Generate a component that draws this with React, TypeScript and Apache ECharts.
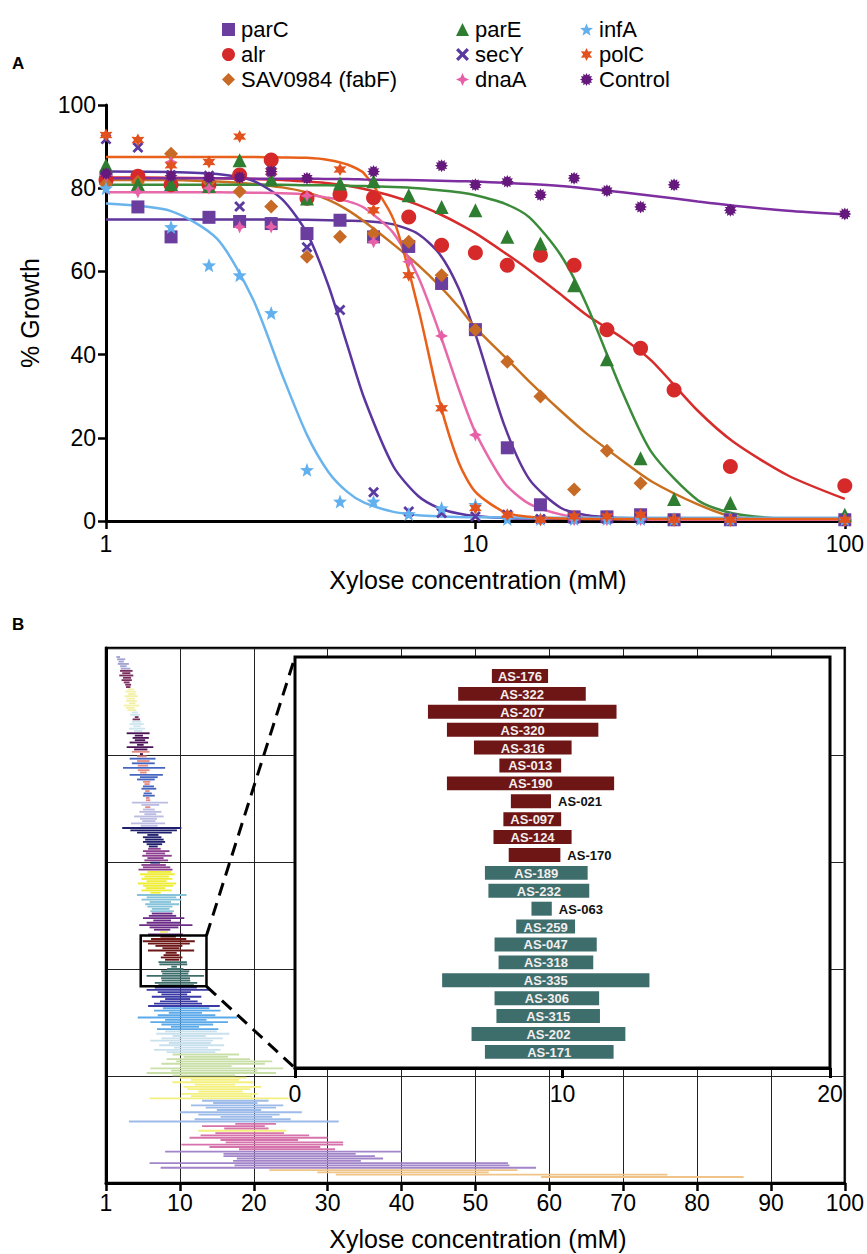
import React, { useEffect, useRef } from "react";
import * as echarts from "echarts";

// ---------------- Panel A data ----------------
const X_COLS = [1, 1.22, 1.5, 1.9, 2.3, 2.8, 3.5, 4.3, 5.3, 6.6, 8.1, 10, 12.2, 15, 18.5, 22.7, 28, 34.5, 49, 100];

const PARC_PTS = [82.4, 75.5, 68.3, 73.0, 72.0, 71.5, 69.1, 72.3, 68.3, 66.0, 57.1, 46.0, 17.6, 3.9, 1.0, 1.0, 1.5, 0.3, 0.3, 0.3];
const ALR_PTS = [82.0, 82.9, 80.8, 80.8, 83.2, 86.8, 77.6, 78.5, 77.7, 73.1, 66.3, 64.5, 61.5, 63.9, 61.5, 46.0, 41.5, 31.5, 13.1, 8.5];
const FABF_PTS = [81.0, 81.5, 88.3, 81.5, 79.2, 75.6, 63.5, 68.3, 69.1, 67.1, 59.1, 46.0, 38.3, 29.9, 7.6, 16.9, 9.1, 0.3, 0.3, 0.3];
const PARE_PTS = [85.5, 81.0, 81.0, 80.5, 86.7, 82.1, 77.5, 81.1, 81.7, 78.3, 75.5, 74.7, 68.3, 66.7, 56.7, 38.9, 15.1, 5.3, 4.3, 1.5];
const SECY_PTS = [91.8, 89.8, 83.1, 83.0, 75.6, 84.0, 65.8, 50.7, 6.9, 2.3, 1.9, 1.1, 1.5, 0.5, 0.5, 0.5, 0.5, 0.5, 0.5, 0.5];
const DNAA_PTS = [83.0, 79.1, 86.3, 80.0, 70.7, 70.7, 78.2, null, 67.1, 62.3, 44.5, 20.7, 1.2, 0.3, 0.3, 0.3, 0.3, 0.3, 0.3, 0.3];
const INFA_PTS = [80.0, null, 70.7, 61.5, 59.1, 50.0, 12.3, 4.7, 4.7, 1.7, 3.1, 3.9, 0.5, 0.5, 0.5, 0.5, 0.5, 0.5, 0.5, 0.5];
const POLC_PTS = [92.8, 91.6, 85.5, 86.3, 92.4, 84.0, null, 84.5, 74.7, 59.1, 27.1, 3.1, 1.5, 0.3, 1.1, 1.1, 1.5, 0.3, 0.3, 0.3];
const CTRL_PTS = [83.5, null, 83.0, 82.6, 82.6, 84.0, 82.4, null, 84.0, null, 85.4, 80.8, 81.6, 78.4, 82.4, 79.4, 75.5, 80.8, 74.7, 73.8];

// fitted curves, read at these concentrations
const CURVE_X = [1, 1.5, 2, 2.5, 3, 3.5, 4, 4.5, 5, 6, 7, 8, 9, 10, 12, 14, 17, 20, 25, 30, 40, 50, 70, 100];
const INFA_FIT = [76.3, 74.5, 67.8, 53.3, 35.1, 20.7, 11.8, 7.0, 4.4, 2.2, 1.4, 1.1, 0.95, 0.9, 0.85, 0.8, 0.8, 0.8, 0.8, 0.8, 0.8, 0.8, 0.8, 0.8];
const SECY_FIT = [84.0, 83.9, 83.4, 81.8, 77.3, 69.2, 56.6, 42.3, 29.5, 13.1, 6.0, 3.0, 1.8, 1.2, 0.7, 0.6, 0.55, 0.5, 0.5, 0.5, 0.5, 0.5, 0.5, 0.5];
const POLC_FIT = [87.5, 87.5, 87.5, 87.5, 87.4, 87.3, 86.8, 85.7, 83.5, 72.5, 51.2, 28.7, 14.2, 7.0, 2.1, 1.0, 0.6, 0.5, 0.5, 0.5, 0.5, 0.5, 0.5, 0.5];
const DNAA_FIT = [79.0, 79.0, 79.0, 78.9, 78.8, 78.5, 77.7, 76.9, 75.3, 69.2, 58.7, 45.2, 31.9, 21.3, 9.1, 4.1, 1.6, 0.8, 0.4, 0.3, 0.3, 0.3, 0.3, 0.3];
const PARC_FIT = [72.5, 72.5, 72.5, 72.5, 72.5, 72.4, 72.3, 72.2, 72.1, 71.3, 69.0, 64.2, 56.0, 44.9, 22.8, 10.0, 3.2, 1.4, 0.7, 0.5, 0.5, 0.5, 0.5, 0.5];
const FABF_FIT = [82.0, 82.0, 81.6, 81.0, 80.2, 79.0, 77.2, 74.8, 72.0, 66.5, 61.5, 56.5, 51.5, 46.5, 39.5, 33.5, 26.5, 21.0, 14.5, 9.5, 4.0, 1.0, 0.3, 0.3];
const ALR_FIT = [82.6, 82.5, 82.4, 82.2, 82.0, 81.6, 81.2, 80.6, 79.8, 78.0, 76.0, 73.8, 71.5, 69.2, 64.5, 60.3, 54.5, 49.5, 44.0, 38.5, 26.5, 19.0, 11.0, 5.3];
const PARE_FIT = [80.8, 80.8, 80.8, 80.8, 80.8, 80.7, 80.7, 80.6, 80.5, 80.3, 80.0, 79.5, 79.0, 78.3, 76.3, 73.0, 64.0, 52.0, 31.0, 16.5, 5.0, 1.8, 0.5, 0.3];
const CTRL_FIT = [82.4, 82.4, 82.4, 82.3, 82.3, 82.3, 82.2, 82.2, 82.1, 82.0, 81.9, 81.8, 81.7, 81.6, 81.3, 81.0, 80.5, 79.9, 79.0, 78.2, 76.8, 75.8, 74.6, 73.7];

const A_TICKS_Y = [0, 20, 40, 60, 80, 100];

// ---------------- Panel B data ----------------
const PALETTE = [
  "#a3a3d3", "#7a2d5c", "#f3f1a8", "#cfe6ef", "#4b1256", "#e38a82", "#4766c2", "#bcbce3",
  "#1f1f6e", "#8d3f8f", "#eeec33", "#86c3da", "#6b2b86", "#6e1515", "#3e6e6c", "#3a3aa6",
  "#5ba9e9", "#c9e0ed", "#c9dfa8", "#f4f07e", "#9dbbe9", "#d673ab", "#a285c9", "#f0c487",
];

const INSET_NAMES = ["AS-176", "AS-322", "AS-207", "AS-320", "AS-316", "AS-013", "AS-190", "AS-021", "AS-097", "AS-124", "AS-170",
  "AS-189", "AS-232", "AS-063", "AS-259", "AS-047", "AS-318", "AS-335", "AS-306", "AS-315", "AS-202", "AS-171"];
const INSET_START = [7.36, 6.10, 4.97, 5.68, 6.69, 7.64, 5.68, 8.07, 7.79, 7.42, 7.99,
  7.10, 7.23, 8.84, 8.27, 7.46, 7.61, 5.50, 7.46, 7.53, 6.60, 7.10];
const INSET_END = [9.46, 10.87, 12.02, 11.34, 10.34, 9.95, 11.93, 9.57, 9.95, 10.34, 9.92,
  10.94, 11.00, 9.60, 10.47, 11.28, 11.15, 13.25, 11.37, 11.40, 12.35, 11.91];
const INSET_CLASS = [13, 13, 13, 13, 13, 13, 13, 13, 13, 13, 13, 14, 14, 14, 14, 14, 14, 14, 14, 14, 14, 14];

const BLK_A = [[1.4, 1.9], [1.5, 2.6], [1.7, 2.4], [1.6, 3.1], [1.9, 2.8], [2.0, 3.3]];
const BLK_B = [[1.9, 3.6], [2.2, 3.3], [1.8, 3.7], [2.3, 3.4], [2.1, 3.5], [2.4, 3.2], [2.6, 3.4], [2.7, 3.3]];
const BLK_C = [[2.9, 3.8], [2.6, 4.1], [3.0, 4.0], [2.5, 4.3], [2.8, 3.9], [2.7, 4.2], [3.1, 4.0], [2.4, 4.5], [2.7, 3.9], [2.9, 4.1]];
const BLK_D = [[3.5, 4.3], [3.3, 4.6], [3.9, 4.4, 1], [3.6, 4.6, 1], [3.5, 4.8], [3.2, 5.1], [3.7, 4.7], [3.1, 5.3], [3.8, 4.9]];
const BLK_E = [[2.8, 5.9], [3.9, 5.0], [3.6, 5.8], [3.9, 5.3], [3.2, 5.7], [4.2, 5.1], [2.8, 6.4], [3.8, 5.6]];
const BLK_F = [[3.5, 5.9], [4.6, 5.0, 4], [4.2, 5.5], [3.2, 6.7, 6], [4.2, 5.9], [3.5, 6.6, 6], [4.3, 5.7], [2.3, 8.0, 6],
  [4.3, 5.9], [4.6, 5.5], [3.2, 7.7, 6], [4.6, 7.0, 6], [4.2, 6.6, 6], [5.0, 6.0], [5.2, 5.9], [5.0, 6.5, 6], [4.8, 6.8, 6],
  [5.3, 5.9], [5.1, 6.2, 6], [5.0, 6.6, 6], [5.4, 5.9], [5.4, 6.0]];
const BLK_G = [[3.5, 8.4], [4.8, 7.2], [5.3, 6.0, 5], [5.0, 6.6], [4.5, 7.5], [5.2, 6.8], [3.8, 7.8], [4.6, 6.9], [4.9, 6.7], [3.4, 8.0], [4.7, 7.0]];
const BLK_H = [[2.2, 10.2], [3.3, 9.6], [4.2, 8.9], [5.6, 7.1], [5.0, 7.5], [5.3, 7.8], [5.0, 8.0], [5.5, 7.6], [5.8, 7.0]];
const BLK_I = [[5.7, 7.4], [5.0, 8.6], [5.4, 8.0], [4.9, 8.9], [5.6, 7.8], [5.2, 8.4], [6.0, 7.3, 8], [4.8, 8.1], [5.0, 8.7], [4.4, 9.0]];
const BLK_J = [[5.6, 8.8], [4.6, 9.3], [5.2, 8.5], [4.8, 9.0], [5.5, 8.2], [4.3, 9.5], [5.0, 9.1], [5.4, 8.0], [4.8, 8.9], [6.0, 7.4]];
const BLK_K = [[4.2, 10.9], [5.5, 9.5], [4.8, 10.2], [5.9, 8.8], [5.3, 9.9], [5.6, 9.0], [6.2, 8.6], [6.0, 9.2]];
const BLK_L = [[6.2, 9.0], [5.8, 9.5], [5.0, 10.6], [6.4, 8.8], [5.5, 10.1], [4.5, 11.7], [5.9, 9.8], [6.5, 8.7], [7.3, 8.4, 19], [5.7, 10.4]];
const BLK_O = [[6.6, 12.3], [5.5, 14.0], [7.0, 11.5], [7.5, 11.0], [6.2, 12.9], [8.0, 11.4], [7.3, 12.4], [6.5, 13.0], [5.7, 15.4]];
const BLK_P = [[7.7, 14.0], [6.5, 15.5], [8.5, 13.0], [7.0, 14.8], [4.3, 17.8], [8.0, 13.6], [6.0, 16.5], [7.5, 14.5], [8.8, 12.6], [6.9, 15.2]];
const BLK_Q = [[8.0, 15.0], [6.8, 16.7], [9.0, 13.5], [7.5, 15.8], [6.0, 14.5], [8.5, 14.2], [7.2, 16.0], [9.2, 13.8], [6.5, 15.5], [8.2, 14.8]];
const BLK_R = [[9.0, 18.0], [10.5, 16.5], [8.2, 19.5], [9.5, 22.5], [7.5, 21.5], [10.0, 17.0], [6.0, 24.0], [8.8, 20.5], [5.5, 23.0], [9.0, 17.5]];
const BLK_S = [[10.0, 19.0], [11.5, 18.0], [9.0, 20.0], [12.0, 17.5], [10.5, 21.0], [11.0, 19.5], [12.5, 18.5], [10.2, 20.5], [11.5, 19.8], [5.9, 24.7]];
const BLK_T = [[13.0, 22.0], [14.5, 20.5], [11.5, 24.0], [13.5, 23.0], [15.0, 21.0], [10.0, 26.5], [12.5, 23.5], [15.5, 22.5], [12.0, 25.0], [3.1, 31.5]];
const BLK_U = [[17.5, 23.0], [13.0, 21.5], [16.0, 22.0], [12.5, 24.4, 19], [14.8, 24.1], [12.8, 27.5], [11.3, 30.0], [15.5, 26.0],
  [16.2, 32.1], [10.2, 32.1], [14.0, 29.0], [18.0, 31.0]];
const BLK_V = [[8.0, 40.0], [15.9, 33.8], [15.9, 36.4], [17.7, 37.5], [17.2, 34.5], [5.9, 54.4], [17.4, 54.6], [7.4, 58.2]];
const BLK_W = [[22.1, 55.7], [28.6, 51.8], [31.1, 76.0], [58.9, 86.3]];

const ZOOM_RANGE = [4.7, 13.6];
const B_TICKS_X = [0, 10, 20, 30, 40, 50, 60, 70, 80, 90, 100];

// ---------------- helpers ----------------
const FONT = "'Liberation Sans', Arial, Helvetica, sans-serif";

function starPath(n: number, ro: number, ri: number) {
  const pts: string[] = [];
  for (let i = 0; i < 2 * n; i++) {
    const r = i % 2 === 0 ? ro : ri;
    const a = -Math.PI / 2 + (i * Math.PI) / n;
    pts.push(`${(50 + r * Math.cos(a)).toFixed(2)},${(50 + r * Math.sin(a)).toFixed(2)}`);
  }
  return "path://M" + pts.join(" L") + " Z";
}
const X_PATH = "path://M0,18 L18,0 L50,32 L82,0 L100,18 L68,50 L100,82 L82,100 L50,68 L18,100 L0,82 L32,50 Z";

const SERIES_A = [
  { name: "parC", pts: PARC_PTS, fit: PARC_FIT, symbol: "rect", size: 13, mc: "#6a3d9e", lc: "#5f3599" },
  { name: "alr", pts: ALR_PTS, fit: ALR_FIT, symbol: "circle", size: 15, mc: "#d62a2a", lc: "#d72c2c" },
  { name: "SAV0984 (fabF)", pts: FABF_PTS, fit: FABF_FIT, symbol: "diamond", size: 14, mc: "#c66a26", lc: "#c8701f" },
  { name: "parE", pts: PARE_PTS, fit: PARE_FIT, symbol: "triangle", size: 14, mc: "#2f7d31", lc: "#3b8b3b" },
  { name: "secY", pts: SECY_PTS, fit: SECY_FIT, symbol: X_PATH, size: 11, mc: "#5b3aa0", lc: "#5a36a0" },
  { name: "dnaA", pts: DNAA_PTS, fit: DNAA_FIT, symbol: starPath(4, 50, 22), size: 13, mc: "#e75fa6", lc: "#e869aa" },
  { name: "infA", pts: INFA_PTS, fit: INFA_FIT, symbol: starPath(5, 50, 21), size: 14, mc: "#63b0ee", lc: "#6ab4ee" },
  { name: "polC", pts: POLC_PTS, fit: POLC_FIT, symbol: starPath(6, 50, 26), size: 13, mc: "#e2521f", lc: "#e8601a" },
  { name: "Control", pts: CTRL_PTS, fit: CTRL_FIT, symbol: starPath(12, 50, 34), size: 13, mc: "#65197c", lc: "#7d2ea0" },
];

const GRID_A = { left: 106, top: 105, width: 742, height: 416 };
const GRID_B = { left: 106, top: 648, width: 742, height: 535 };
const GRID_I = { left: 295, top: 657, width: 535, height: 411 };

function buildRows() {
  const blocks: [number[][], number][] = [
    [BLK_A, 0], [BLK_B, 1], [BLK_C, 2], [BLK_D, 3], [BLK_E, 4], [BLK_F, 5], [BLK_G, 7], [BLK_H, 8], [BLK_I, 9],
    [BLK_J, 10], [BLK_K, 11], [BLK_L, 12],
  ];
  const rows: number[][] = [];
  for (const [blk, cls] of blocks) for (const r of blk) rows.push([r[0], r[1], rows.length, r[2] ?? cls]);
  const insetFirst = rows.length;
  for (let i = 0; i < INSET_NAMES.length; i++) rows.push([INSET_START[i], INSET_END[i], rows.length, INSET_CLASS[i]]);
  const insetLast = rows.length - 1;
  const after: [number[][], number][] = [
    [BLK_O, 15], [BLK_P, 16], [BLK_Q, 17], [BLK_R, 18], [BLK_S, 19], [BLK_T, 20], [BLK_U, 21], [BLK_V, 22], [BLK_W, 23],
  ];
  for (const [blk, cls] of after) for (const r of blk) rows.push([r[0], r[1], rows.length, r[2] ?? cls]);
  return { rows, insetFirst, insetLast };
}

export default function App() {
  const ref = useRef<HTMLDivElement>(null);

  useEffect(() => {
    if (!ref.current) return;
    const chart = echarts.init(ref.current, null, { renderer: "svg" });
    const { rows, insetFirst, insetLast } = buildRows();
    const nRows = rows.length;
    const pitch = 520 / (nRows - 1);
    const rowMin = -9 / pitch;
    const rowMax = nRows - 1 + 6 / pitch;

    const insetData = INSET_NAMES.map((n, i) => [INSET_START[i], INSET_END[i], i, INSET_CLASS[i]]);

    const lineSeries = SERIES_A.map((s) => ({
      type: "line",
      name: s.name + " fit",
      xAxisIndex: 0,
      yAxisIndex: 0,
      data: CURVE_X.map((x, i) => [x, s.fit[i]]),
      showSymbol: false,
      smooth: 0.25,
      silent: true,
      lineStyle: { color: s.lc, width: 2.5 },
      itemStyle: { color: s.lc },
      z: 2,
    }));
    const scatterSeries = SERIES_A.map((s) => ({
      type: "scatter",
      name: s.name,
      xAxisIndex: 0,
      yAxisIndex: 0,
      data: X_COLS.map((x, i) => (s.pts[i] == null ? null : [x, s.pts[i]])).filter((d) => d !== null),
      symbol: s.symbol,
      symbolSize: s.size,
      itemStyle: { color: s.mc, opacity: 1 },
      z: 3,
    }));

    const legendBase = {
      orient: "vertical",
      itemWidth: 13,
      itemHeight: 13,
      itemGap: 0,
      selectedMode: false,
      textStyle: { fontSize: 22, color: "#000", fontFamily: FONT, lineHeight: 25, padding: [0, 0, 0, 1] },
    };

    const option: any = {
      animation: false,
      backgroundColor: "#fff",
      legend: [
        { ...legendBase, left: 217, top: 12, data: ["parC", "alr", "SAV0984 (fabF)"] },
        { ...legendBase, left: 451, top: 12, data: ["parE", "secY", "dnaA"] },
        { ...legendBase, left: 575, top: 12, data: ["infA", "polC", "Control"] },
      ],
      grid: [
        { ...GRID_A, containLabel: false },
        { ...GRID_B, containLabel: false, show: true, borderColor: "#000", borderWidth: 2.5, backgroundColor: "transparent" },
        { ...GRID_I, containLabel: false },
      ],
      xAxis: [
        {
          gridIndex: 0, type: "log", logBase: 10, min: 1, max: 100,
          axisLine: { lineStyle: { color: "#000", width: 3 } },
          axisTick: { show: true, length: 8, lineStyle: { color: "#000", width: 2.5 } },
          minorTick: { show: false },
          axisLabel: { fontSize: 23, color: "#000", fontFamily: FONT, margin: 11 },
          splitLine: { show: false },
        },
        {
          gridIndex: 1, type: "value", min: 0, max: 100, interval: 10,
          axisLine: { onZero: false, lineStyle: { color: "#000", width: 3 } },
          axisTick: { show: true, length: 8, lineStyle: { color: "#000", width: 2.5 } },
          axisLabel: {
            fontSize: 23, color: "#000", fontFamily: FONT, margin: 8,
            formatter: (v: number) => (v === B_TICKS_X[0] ? "1" : String(v)),
          },
          splitLine: { show: true, lineStyle: { color: "#222", width: 1 } },
        },
        {
          gridIndex: 2, type: "value", min: 0, max: 20, interval: 10, z: 12,
          axisLine: { onZero: false, lineStyle: { color: "#000", width: 3 } },
          axisTick: { show: true, length: 10, lineStyle: { color: "#000", width: 3 } },
          axisLabel: { fontSize: 23, color: "#000", fontFamily: FONT, margin: 14 },
          splitLine: { show: false },
        },
      ],
      yAxis: [
        {
          gridIndex: 0, type: "value", min: A_TICKS_Y[0], max: A_TICKS_Y[A_TICKS_Y.length - 1], interval: 20,
          axisLine: { show: true, lineStyle: { color: "#000", width: 3 } },
          axisTick: { show: true, length: 8, lineStyle: { color: "#000", width: 2.5 } },
          axisLabel: { fontSize: 23, color: "#000", fontFamily: FONT, margin: 10 },
          splitLine: { show: false },
        },
        {
          gridIndex: 1, type: "value", inverse: true, min: rowMin, max: rowMax,
          axisLine: { show: true, onZero: false, lineStyle: { color: "#000", width: 3 } },
          axisTick: { show: false }, axisLabel: { show: false }, splitLine: { show: false },
        },
        {
          gridIndex: 1, type: "value", min: 0, max: 5, interval: 1, position: "right",
          axisLine: { show: false }, axisTick: { show: false }, axisLabel: { show: false },
          splitLine: { show: true, lineStyle: { color: "#222", width: 1 } },
        },
        {
          gridIndex: 2, type: "value", inverse: true, min: -1.06, max: 21.9, show: false,
        },
      ],
      series: [
        ...lineSeries,
        ...scatterSeries,
        {
          type: "custom",
          name: "strains",
          xAxisIndex: 1,
          yAxisIndex: 1,
          data: rows,
          encode: { x: [0, 1], y: 2 },
          silent: true,
          z: 2,
          renderItem: (params: any, api: any) => {
            const a = api.coord([api.value(0), api.value(2)]);
            const b = api.coord([api.value(1), api.value(2)]);
            const h = Math.abs(api.size([0, 1])[1]) * 0.8;
            return {
              type: "rect",
              shape: { x: a[0], y: a[1] - h / 2, width: b[0] - a[0], height: h },
              style: { fill: PALETTE[api.value(3)] },
            };
          },
        },
        {
          type: "custom",
          name: "inset",
          xAxisIndex: 2,
          yAxisIndex: 3,
          data: insetData,
          encode: { x: [0, 1], y: 2 },
          silent: true,
          z: 12,
          renderItem: (params: any, api: any) => {
            const s = api.value(0);
            const e = api.value(1);
            const idx = api.value(2);
            const a = api.coord([s, idx]);
            const b = api.coord([e, idx]);
            const h = Math.abs(api.size([0, 1])[1]) * 0.78;
            const outside = e - s < 2.0;
            return {
              type: "group",
              children: [
                {
                  type: "rect",
                  shape: { x: a[0], y: a[1] - h / 2, width: b[0] - a[0], height: h },
                  style: { fill: PALETTE[api.value(3)] },
                },
                {
                  type: "text",
                  x: outside ? b[0] + 7 : (a[0] + b[0]) / 2,
                  y: a[1] + 0.5,
                  style: {
                    text: INSET_NAMES[idx],
                    fill: outside ? "#111" : "#f4eeee",
                    fontSize: 13,
                    fontWeight: "bold",
                    fontFamily: FONT,
                    align: outside ? "left" : "center",
                    verticalAlign: "middle",
                  },
                },
              ],
            };
          },
        },
      ],
    };

    chart.setOption(option);

    const tl = chart.convertToPixel({ xAxisIndex: 1, yAxisIndex: 1 } as any, [ZOOM_RANGE[0], insetFirst - 0.5]) as number[];
    const br = chart.convertToPixel({ xAxisIndex: 1, yAxisIndex: 1 } as any, [ZOOM_RANGE[1], insetLast + 0.5]) as number[];

    const ix0 = GRID_I.left;
    const iy0 = GRID_I.top;
    const iy1 = GRID_I.top + GRID_I.height;

    chart.setOption({
      graphic: [
        {
          type: "rect", z: 10, silent: true,
          shape: { x: ix0, y: iy0, width: GRID_I.width, height: GRID_I.height },
          style: { fill: "#fff", stroke: "#000", lineWidth: 3 },
        },
        {
          type: "rect", z: 11, silent: true,
          shape: { x: tl[0], y: tl[1], width: br[0] - tl[0], height: br[1] - tl[1] },
          style: { fill: "none", stroke: "#000", lineWidth: 2.5 },
        },
        {
          type: "line", z: 11, silent: true,
          shape: { x1: br[0], y1: tl[1], x2: ix0, y2: iy0 },
          style: { stroke: "#000", lineWidth: 3, lineDash: [13, 8] },
        },
        {
          type: "line", z: 11, silent: true,
          shape: { x1: br[0], y1: br[1], x2: ix0, y2: iy1 },
          style: { stroke: "#000", lineWidth: 3, lineDash: [13, 8] },
        },
        {
          type: "text", z: 20, x: 12, y: 63,
          style: { text: "A", fontSize: 17, fontWeight: "bold", fill: "#000", fontFamily: FONT, verticalAlign: "middle" },
        },
        {
          type: "text", z: 20, x: 12, y: 624,
          style: { text: "B", fontSize: 17, fontWeight: "bold", fill: "#000", fontFamily: FONT, verticalAlign: "middle" },
        },
        {
          type: "text", z: 20, x: 30, y: 313, rotation: Math.PI / 2,
          style: { text: "% Growth", fontSize: 25, fill: "#000", fontFamily: FONT, align: "center", verticalAlign: "middle" },
        },
        {
          type: "text", z: 20, x: 478, y: 580,
          style: { text: "Xylose concentration (mM)", fontSize: 25, fill: "#000", fontFamily: FONT, align: "center", verticalAlign: "middle" },
        },
        {
          type: "text", z: 20, x: 478, y: 1239,
          style: { text: "Xylose concentration (mM)", fontSize: 25, fill: "#000", fontFamily: FONT, align: "center", verticalAlign: "middle" },
        },
      ],
    });

    return () => chart.dispose();
  }, []);

  return (
    <div
      ref={ref}
      style={{ position: "absolute", left: 0, top: 0, width: 867, height: 1254, background: "#fff" }}
    />
  );
}
